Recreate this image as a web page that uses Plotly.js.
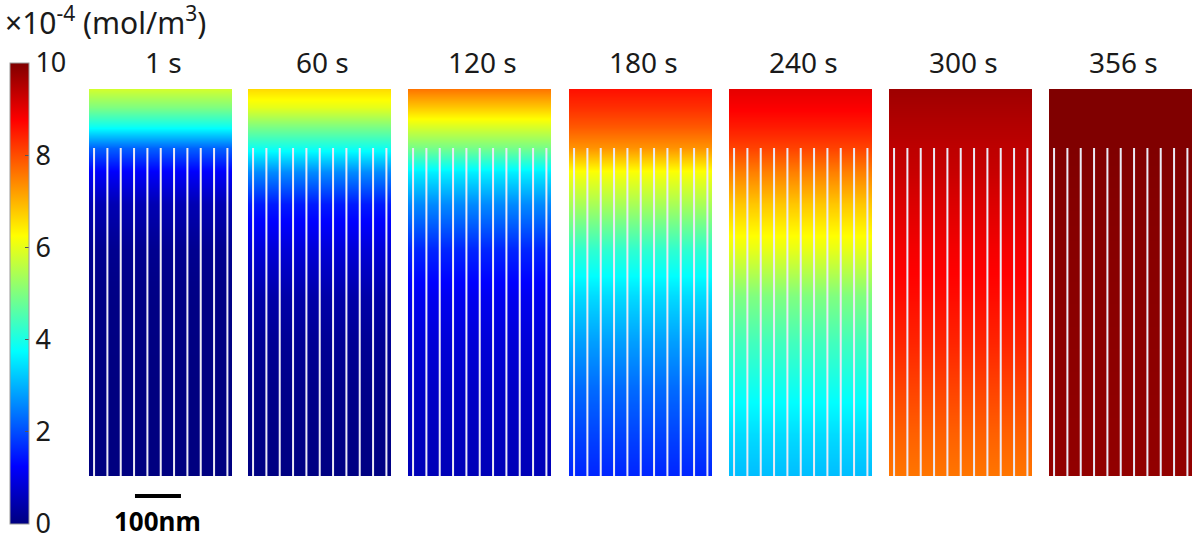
<!DOCTYPE html>
<html>
<head>
<meta charset="utf-8">
<script src="https://cdn.plot.ly/plotly-3.0.1.min.js"></script>
<style>html,body{margin:0;padding:0;background:#fff;}#chart{width:1193px;height:540px;}</style>
</head>
<body>
<div id="chart"></div>
<script>
// ---- data ----
var timeLabels = ['1 s', '60 s', '120 s', '180 s', '240 s', '300 s', '356 s'];
// depth below the top of the reservoir (nm)
var depthNm = [0, 40, 80, 128, 180, 250, 350, 450, 550, 650, 750, 840];
// concentration (x10^-4 mol/m^3) along depth, one profile per time
var conc1s   = [5.8, 5.0, 3.9, 2.2, 1.2, 0.5, 0.15, 0.05, 0.02, 0.0, 0.0, 0.0];
var conc60s  = [6.6, 6.0, 5.0, 3.9, 2.6, 1.5, 0.85, 0.4, 0.2, 0.1, 0.05, 0.03];
var conc120s = [7.6, 6.8, 5.9, 4.9, 3.6, 2.6, 1.6, 1.1, 0.85, 0.7, 0.6, 0.55];
var conc180s = [8.6, 8.3, 7.9, 7.3, 6.2, 5.4, 4.2, 3.4, 2.8, 2.3, 1.9, 1.6];
var conc240s = [9.0, 8.8, 8.5, 8.1, 7.5, 6.8, 6.0, 5.0, 4.4, 3.9, 3.4, 3.1];
var conc300s = [9.7, 9.6, 9.5, 9.4, 9.3, 9.1, 8.85, 8.65, 8.4, 8.1, 7.8, 7.6];
var conc356s = [10, 10, 10, 10, 9.98, 9.95, 9.92, 9.9, 9.88, 9.86, 9.84, 9.82];
var profiles = [conc1s, conc60s, conc120s, conc180s, conc240s, conc300s, conc356s];
// geometry (nm)
var panelWidthNm = 311;
var channelTopNm = 128;
var wallPositionsNm = [11, 40, 69, 98, 127, 156, 185, 214, 243, 272, 301];
var scaleBarNm = [100, 200];
var colorbarTicks = [0, 2, 4, 6, 8, 10];

// ---- build ----
var W = 1193, H = 540;
var panelLeftPx = [89, 248, 408, 569, 729, 889, 1049];
var panelW = 143;
var topPx = 89, botPx = 476;
var jet = [[0, 'rgb(0,0,128)'], [0.125, 'rgb(0,0,255)'], [0.375, 'rgb(0,255,255)'],
           [0.625, 'rgb(255,255,0)'], [0.875, 'rgb(255,0,0)'], [1, 'rgb(128,0,0)']];

var traces = [];
var layout = {
  width: W, height: H,
  margin: {l: 0, r: 0, t: 0, b: 0},
  paper_bgcolor: '#fff', plot_bgcolor: 'rgba(0,0,0,0)',
  showlegend: false,
  font: {family: 'Noto Sans, sans-serif', color: '#1a1a1a'},
  coloraxis: {
    cmin: 0, cmax: 10, colorscale: jet,
    colorbar: {
      x: 10 / W, xanchor: 'left', xpad: 0, ypad: 0,
      y: 1 - 524 / H, yanchor: 'bottom',
      lenmode: 'pixels', len: 461,
      thickness: 19, thicknessmode: 'pixels',
      outlinecolor: '#9a9a9a', outlinewidth: 1,
      tickmode: 'array', tickvals: colorbarTicks, ticktext: colorbarTicks.map(String),
      ticks: 'inside', ticklen: 4, tickcolor: '#555',
      ticklabeloverflow: 'allow',
      tickfont: {size: 27, color: '#1a1a1a', family: 'Noto Sans, sans-serif'}
    }
  },
  yaxis: {
    domain: [1 - botPx / H, 1 - topPx / H],
    range: [depthNm[depthNm.length - 1], 0],
    visible: false, fixedrange: true
  },
  annotations: [],
  shapes: []
};

for (var i = 0; i < profiles.length; i++) {
  var ax = i === 0 ? 'x' : 'x' + (i + 1);
  var axKey = i === 0 ? 'xaxis' : 'xaxis' + (i + 1);
  layout[axKey] = {
    domain: [panelLeftPx[i] / W, (panelLeftPx[i] + panelW) / W],
    range: [0, panelWidthNm], anchor: 'y', visible: false, fixedrange: true
  };
  var prof = profiles[i];
  traces.push({
    type: 'heatmap', xaxis: ax, yaxis: 'y',
    x: [0, panelWidthNm], y: depthNm,
    z: prof.map(function (c) { return [c, c]; }),
    coloraxis: 'coloraxis', zsmooth: 'best', hoverinfo: 'skip'
  });
  // channel walls
  var wx = [], wy = [];
  wallPositionsNm.forEach(function (p) {
    wx.push(p, p, null);
    wy.push(channelTopNm, depthNm[depthNm.length - 1], null);
  });
  traces.push({
    type: 'scatter', mode: 'lines', xaxis: ax, yaxis: 'y',
    x: wx, y: wy, line: {color: 'rgb(236,234,245)', width: 2},
    hoverinfo: 'skip', cliponaxis: true
  });
  layout.annotations.push({
    xref: ax + ' domain', yref: 'paper', x: 0.52, y: 1 - 62 / H,
    xanchor: 'center', yanchor: 'middle', showarrow: false,
    text: timeLabels[i], font: {size: 28, color: '#1a1a1a'}
  });
}

// colorbar unit label
layout.annotations.push({
  xref: 'paper', yref: 'paper', x: 3 / W, y: 1 - 21 / H,
  xanchor: 'left', yanchor: 'middle', showarrow: false,
  text: '\u00d710<sup>-4</sup> (mol/m<sup>3</sup>)', font: {size: 30, color: '#1a1a1a'}
});
// scale bar
layout.shapes.push({
  type: 'line', xref: 'x', yref: 'paper',
  x0: scaleBarNm[0], x1: scaleBarNm[1], y0: 1 - 496 / H, y1: 1 - 496 / H,
  line: {color: '#000', width: 4}
});
layout.annotations.push({
  xref: 'x', yref: 'paper', x: (scaleBarNm[0] + scaleBarNm[1]) / 2, y: 1 - 521 / H,
  xanchor: 'center', yanchor: 'middle', showarrow: false,
  text: '<b>' + (scaleBarNm[1] - scaleBarNm[0]) + 'nm</b>', font: {size: 26, color: '#000'}
});

Plotly.newPlot('chart', traces, layout, {displayModeBar: false, staticPlot: true});
</script>
</body>
</html>
